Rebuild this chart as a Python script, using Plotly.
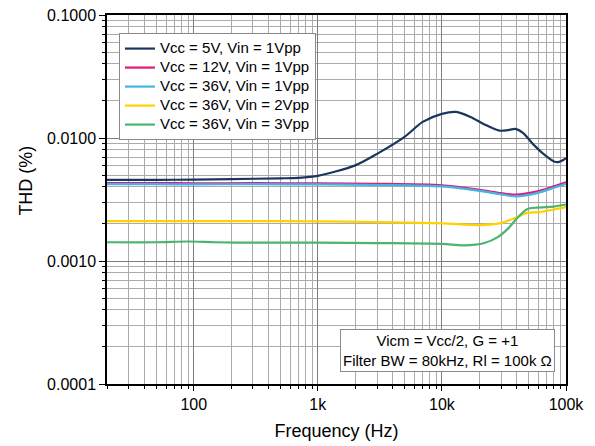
import plotly.graph_objects as go

# THD vs frequency for several supply / input-level conditions
freq_5v = [20, 30, 50, 100, 200, 500, 700, 1000, 2000, 3000, 5000, 7000, 10000,
           13000, 17000, 22000, 29000, 35000, 39000, 45000, 55000, 65000, 80000,
           88000, 100000]
thd_5v = [0.00457, 0.00457, 0.00457, 0.00459, 0.00463, 0.00470, 0.00474, 0.00492,
          0.00599, 0.00743, 0.01021, 0.01351, 0.01570, 0.01629, 0.01484, 0.01290,
          0.01148, 0.01163, 0.01186, 0.01100, 0.00879, 0.00750, 0.00645, 0.00639,
          0.00685]

freq_12v = [20, 50, 100, 300, 1000, 3000, 10000, 20000, 30000, 40000, 55000, 75000, 100000]
thd_12v = [0.00429, 0.00430, 0.00428, 0.00429, 0.00427, 0.00424, 0.00412, 0.00379,
           0.00356, 0.00346, 0.00363, 0.00396, 0.00436]

freq_36v_1 = [20, 50, 100, 300, 1000, 3000, 10000, 20000, 30000, 40000, 55000, 75000, 100000]
thd_36v_1 = [0.00421, 0.00421, 0.00420, 0.00421, 0.00419, 0.00415, 0.00404, 0.00372,
             0.00348, 0.00335, 0.00351, 0.00386, 0.00424]

freq_36v_2 = [20, 50, 100, 300, 1000, 3000, 10000, 20400, 29600, 40300, 48500, 62000, 100000]
thd_36v_2 = [0.00211, 0.00211, 0.00211, 0.00211, 0.00210, 0.00207, 0.00202, 0.00196,
             0.00203, 0.00227, 0.00246, 0.00250, 0.00274]

freq_36v_3 = [20, 50, 90, 150, 300, 1000, 3000, 10000, 15000, 22000, 28600, 34400,
              40300, 48500, 58400, 79400, 100000]
thd_36v_3 = [0.00142, 0.00142, 0.00144, 0.00142, 0.00141, 0.00141, 0.00140, 0.00138,
             0.00134, 0.00140, 0.00158, 0.00185, 0.00223, 0.00264, 0.00272, 0.00277,
             0.00288]

series = [
    ("Vcc = 5V, Vin = 1Vpp", freq_5v, thd_5v, "#1B365D"),
    ("Vcc = 12V, Vin = 1Vpp", freq_12v, thd_12v, "#E0197D"),
    ("Vcc = 36V, Vin = 1Vpp", freq_36v_1, thd_36v_1, "#41B6E6"),
    ("Vcc = 36V, Vin = 2Vpp", freq_36v_2, thd_36v_2, "#FFD100"),
    ("Vcc = 36V, Vin = 3Vpp", freq_36v_3, thd_36v_3, "#4CB472"),
]

x_tick_vals = [100, 1000, 10000, 100000]
x_tick_text = ["100", "1k", "10k", "100k"]
y_tick_vals = [0.0001, 0.001, 0.01, 0.1]
y_tick_text = ["0.0001", "0.0010", "0.0100", "0.1000"]

FONT = "Arial, Liberation Sans, sans-serif"
MAJOR_GRID = "#7d7d7d"
MINOR_GRID = "#ababab"

fig = go.Figure()
for name, fx, fy, color in series:
    fig.add_trace(go.Scatter(
        x=fx, y=fy, mode="lines",
        # legend rows are sized from the legend font; the label itself is drawn at 15px
        name='<span style="font-size:15px">' + name + "</span>",
        line=dict(color=color, width=2.2, shape="spline", smoothing=0.8),
    ))

x_minor = [m * 10 ** e for e in range(1, 5) for m in range(2, 10) if 20 <= m * 10 ** e <= 100000]
y_minor = [m * 10.0 ** e for e in range(-4, -1) for m in range(2, 10)]

fig.update_layout(
    width=595, height=446,
    margin=dict(l=107, r=29, t=15, b=62),
    paper_bgcolor="white", plot_bgcolor="white",
    font=dict(family=FONT, color="black", size=16),
    showlegend=True,
    legend=dict(
        x=0.026, y=0.951, xanchor="left", yanchor="top",
        bgcolor="white", bordercolor="#8a8a8a", borderwidth=1,
        font=dict(family=FONT, size=12.3, color="black"),
        tracegroupgap=0, itemwidth=30,
    ),
    xaxis=dict(
        type="log", range=[1.30103, 5], automargin=False,
        tickmode="array", tickvals=x_tick_vals, ticktext=x_tick_text,
        ticks="outside", ticklen=5, tickcolor="black", tickwidth=1,
        showline=True, linecolor="black", linewidth=1.5, mirror=True,
        showgrid=True, gridcolor=MAJOR_GRID, gridwidth=1,
        zeroline=False,
        tickfont=dict(family=FONT, size=16),
        title=dict(text="Frequency (Hz)", font=dict(family=FONT, size=18), standoff=12),
        minor=dict(tickmode="array", tickvals=x_minor, ticks="outside", ticklen=3,
                   tickcolor="black", showgrid=True, gridcolor=MINOR_GRID, gridwidth=1),
    ),
    yaxis=dict(
        type="log", range=[-4, -1], automargin=False,
        tickmode="array", tickvals=y_tick_vals, ticktext=y_tick_text,
        ticks="outside", ticklen=6, tickcolor="black", tickwidth=1,
        showline=True, linecolor="black", linewidth=1.5, mirror=True,
        showgrid=True, gridcolor=MAJOR_GRID, gridwidth=1,
        zeroline=False,
        tickfont=dict(family=FONT, size=16),
        minor=dict(tickmode="array", tickvals=y_minor, ticks="outside", ticklen=3,
                   tickcolor="black", showgrid=True, gridcolor=MINOR_GRID, gridwidth=1),
    ),
    annotations=[
        dict(
            text="THD (%)", textangle=-90, xref="paper", yref="paper",
            x=-0.177, y=0.5505, xanchor="center", yanchor="middle",
            showarrow=False, font=dict(family=FONT, size=18, color="black"),
        ),
        dict(
            text="Vicm = Vcc/2, G = +1<br>Filter BW = 80kHz, Rl = 100k Ω",
            xref="paper", yref="paper", x=0.741, y=0.0915,
            xanchor="center", yanchor="middle", align="center",
            showarrow=False, bgcolor="white", bordercolor="#8a8a8a",
            borderwidth=1, borderpad=2,
            font=dict(family=FONT, size=15, color="black"),
        ),
    ],
)

fig.write_html("out.html")
